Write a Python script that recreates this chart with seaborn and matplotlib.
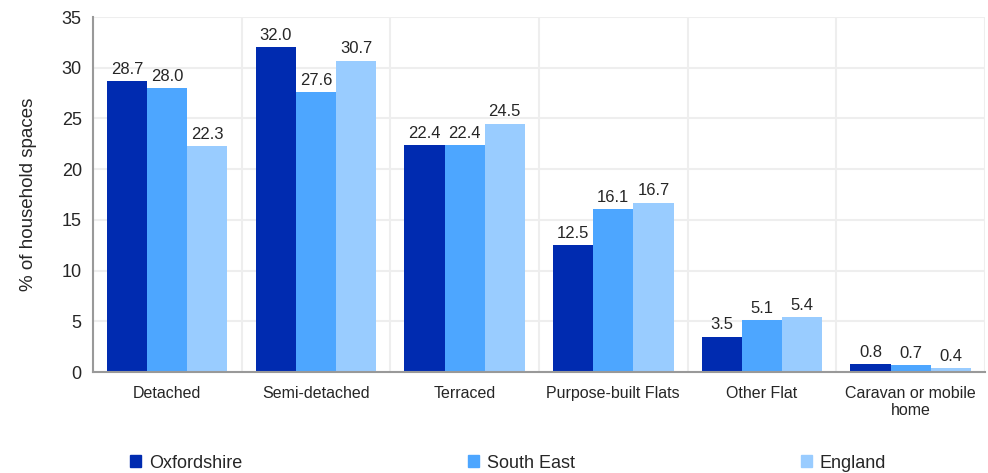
import numpy as np
import pandas as pd
import seaborn as sns
import matplotlib.pyplot as plt

categories = ["Detached", "Semi-detached", "Terraced", "Purpose-built Flats",
              "Other Flat", "Caravan or mobile\nhome"]
areas = ["Oxfordshire", "South East", "England"]
oxfordshire = [28.7, 32.0, 22.4, 12.5, 3.5, 0.8]
south_east = [28.0, 27.6, 22.4, 16.1, 5.1, 0.7]
england = [22.3, 30.7, 24.5, 16.7, 5.4, 0.4]
colors = ["#002BB0", "#4DA6FF", "#99CCFF"]

df = pd.DataFrame({
    "type": categories * 3,
    "area": np.repeat(areas, len(categories)),
    "pct": oxfordshire + south_east + england,
})

sns.set_style("white")
plt.rcParams["font.family"] = ["Liberation Sans", "DejaVu Sans"]

fig = plt.figure(figsize=(9.88, 4.73), dpi=100)
ax = fig.add_axes([0.094, 0.2135, 0.903, 0.7505])
sns.barplot(data=df, x="type", y="pct", hue="area", palette=colors,
            width=0.81, gap=0, saturation=1, linewidth=0, ax=ax, legend=False)

for c in ax.containers:
    ax.bar_label(c, fmt="%.1f", padding=3, fontsize=12)

ax.set_ylim(0, 35)
ax.set_xlim(-0.5, len(categories) - 0.5)
ax.set_yticks(range(0, 36, 5))
ax.set_xticks(np.arange(-0.5, len(categories), 1), minor=True)
ax.tick_params(axis="y", labelsize=13, length=4, color="#999999", pad=4)
ax.tick_params(axis="x", which="major", length=0, labelsize=11.5, pad=10)
ax.tick_params(axis="x", which="minor", length=4, color="#999999")
ax.grid(axis="y", color="#eeeeee", lw=1.5)
ax.grid(axis="x", which="minor", color="#eeeeee", lw=1.5)
ax.set_axisbelow(True)
for s in ["top", "right"]:
    ax.spines[s].set_visible(False)
for s in ["left", "bottom"]:
    ax.spines[s].set_color("#999999")
    ax.spines[s].set_linewidth(1.5)
ax.set_xlabel("")
ax.set_ylabel("% of household spaces", fontsize=13.5, labelpad=18)

handles = [plt.Rectangle((0, 0), 1, 1, color=c) for c in colors]
fig.legend(handles, areas, loc="center left", ncol=3, mode="expand",
           bbox_to_anchor=(0.132, 0.021, 0.765, 0.0), frameon=False,
           fontsize=13, handlelength=0.6, handleheight=0.6, handletextpad=0.45,
           borderpad=0, borderaxespad=0)

fig.savefig("out.png", dpi=100)
